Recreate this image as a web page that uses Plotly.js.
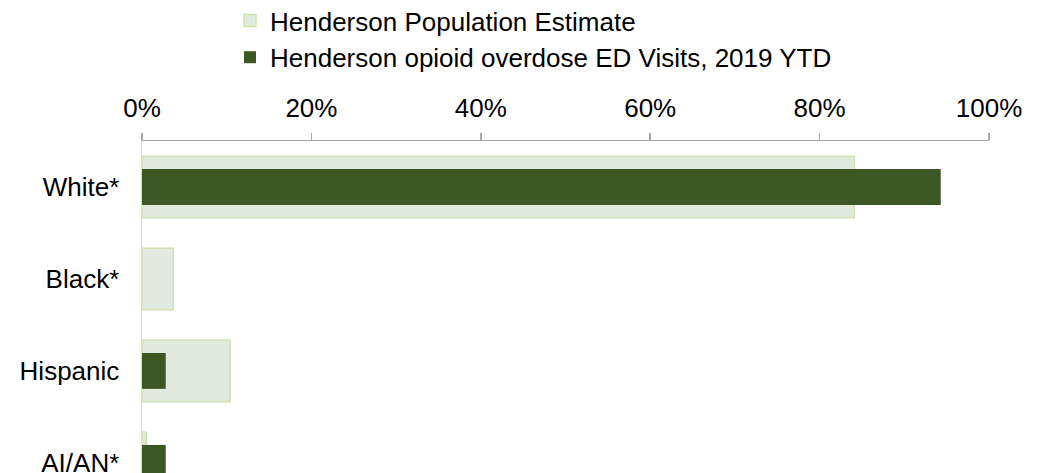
<!DOCTYPE html>
<html>
<head>
<meta charset="utf-8">
<script src="https://cdn.plot.ly/plotly-3.0.1.min.js"></script>
<style>html,body{margin:0;padding:0;background:#fff;}#chart{width:1046px;height:473px;}</style>
</head>
<body>
<div id="chart"></div>
<script>
var categories = ["White*", "Black*", "Hispanic", "AI/AN*"];
var populationEstimate = [0.841, 0.037, 0.104, 0.005];
var edVisits2019 = [0.943, 0, 0.028, 0.028];
var seriesNames = ["Henderson Population Estimate", "Henderson opioid overdose ED Visits, 2019 YTD"];
var xTickVals = [0, 0.2, 0.4, 0.6, 0.8, 1.0];
var xTickText = ["0%", "20%", "40%", "60%", "80%", "100%"];

var traces = [
  {
    type: "bar", orientation: "h", name: seriesNames[0],
    y: categories, x: populationEstimate, width: 0.67,
    legendgroup: "a",
    marker: {color: "#e1eadf", line: {color: "#d2e2b0", width: 1.5}},
    hoverinfo: "x+y"
  },
  {
    type: "bar", orientation: "h", name: seriesNames[1],
    y: categories, x: edVisits2019, width: 0.39,
    legendgroup: "b",
    marker: {color: "#3d5724", line: {color: "#3d5724", width: 0}},
    hoverinfo: "x+y"
  }
];

var layout = {
  width: 1046, height: 473,
  margin: {l: 142, r: 56.5, t: 141, b: 0, pad: 0, autoexpand: false},
  paper_bgcolor: "#ffffff", plot_bgcolor: "#ffffff",
  font: {family: "Liberation Sans, Arial, sans-serif", size: 26, color: "#000000"},
  barmode: "overlay",
  showlegend: true,
  legend: {
    xref: "container", yref: "paper",
    x: 230/1046, y: 1 + 144/332, xanchor: "left", yanchor: "top",
    orientation: "v", traceorder: "grouped", tracegroupgap: 0,
    font: {size: 26, color: "#000000"},
    bgcolor: "rgba(0,0,0,0)"
  },
  xaxis: {
    side: "top", range: [0, 1], tickvals: xTickVals, ticktext: xTickText,
    showgrid: false, zeroline: false, automargin: false, tickangle: 0,
    showline: true, linecolor: "#a6a6a6", linewidth: 1.5,
    ticks: "outside", ticklen: 7, tickwidth: 1.5, tickcolor: "#a6a6a6",
    ticklabelstandoff: 5,
    tickfont: {size: 26, color: "#000000"}, fixedrange: true
  },
  yaxis: {
    type: "category", autorange: false, range: [3.11, -0.5],
    showgrid: false, zeroline: false, automargin: false,
    showline: true, linecolor: "#d9d9d9", linewidth: 1.5,
    ticks: "", ticklabelstandoff: 16,
    tickfont: {size: 26, color: "#000000"}, fixedrange: true
  }
};

Plotly.newPlot("chart", traces, layout, {displayModeBar: false, staticPlot: true});
</script>
</body>
</html>
